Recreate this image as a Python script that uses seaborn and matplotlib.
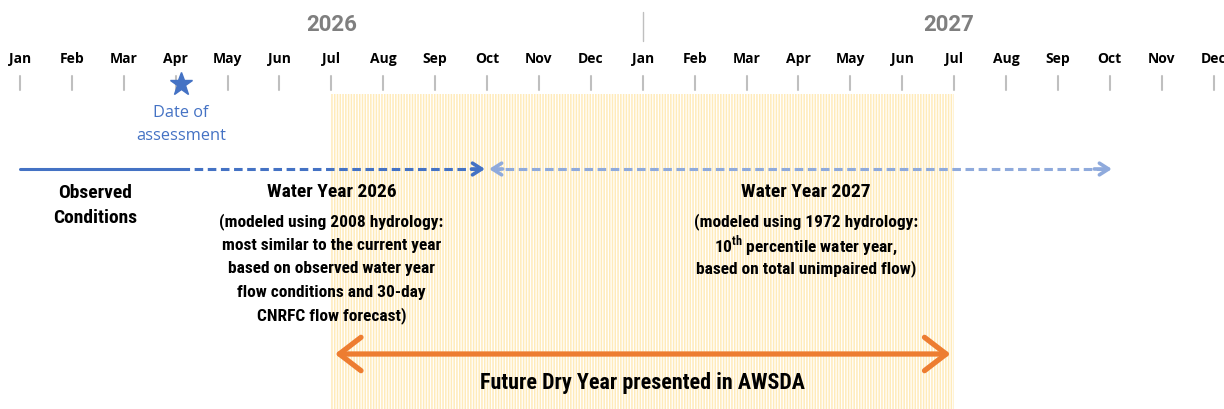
import matplotlib
matplotlib.use("Agg")
import matplotlib.pyplot as plt
from matplotlib import font_manager
import seaborn as sns
import pandas as pd
import numpy as np

# 时间轴数据
month_labels = ['Jan', 'Feb', 'Mar', 'Apr', 'May', 'Jun',
                'Jul', 'Aug', 'Sep', 'Oct', 'Nov', 'Dec'] * 2
year_labels = ['2026', '2027']
year_label_pos = [6.0, 17.9]
year_divider = 12.0

assessment_month = 3.1
observed_period = [0.0, 3.1]
wy2026_period = [3.1, 9.0]
wy2027_period = [9.0, 21.0]
dry_year_period = [6.0, 18.0]

wy2026_notes = ['(modeled using 2008 hydrology:',
                'most similar to the current year',
                'based on observed water year',
                'flow conditions and 30-day',
                'CNRFC flow forecast)']
wy2027_notes = ['(modeled using 1972 hydrology:',
                r'10$^{\mathregular{th}}$ percentile water year,',
                'based on total unimpaired flow)']

sns.set_theme(style='white')

# 找一个窄体字体
installed = {f.name for f in font_manager.fontManager.ttflist}
cands = ['Liberation Sans Narrow', 'Roboto Condensed', 'DejaVu Sans Condensed',
         'Open Sans Condensed', 'Noto Sans Condensed', 'Roboto', 'DejaVu Sans']
narrow_name = [c for c in cands if c in installed][0]
narrow = [narrow_name, 'DejaVu Sans']
plt.rcParams['font.family'] = narrow
plt.rcParams['hatch.linewidth'] = 1.1
plt.rcParams['text.color'] = 'black'

fig = plt.figure(figsize=(12.24, 4.10), dpi=100)
ax = fig.add_axes([0, 0, 1, 1])
ax.set_xlim(-0.385, 23.2)
ax.set_ylim(410, 0)
ax.axis('off')

blue = '#4472C4'
light_blue = '#8FAADC'
orange = '#ED7D31'
ui = ['Open Sans', 'DejaVu Sans']
txt = dict(ha='center', va='center', fontweight='bold', stretch='condensed')

# 干旱年背景（竖条纹）
ax.fill_between(dry_year_period, 95, 410, facecolor='white',
                edgecolor='#FFEBBA', hatch='||||||', linewidth=0, zorder=0)

# 年份标签和分隔线
for lab, xp in zip(year_labels, year_label_pos):
    ax.text(xp, 25, lab, ha='center', va='center', fontsize=16,
            fontweight='bold', color='#7F7F7F', family=['Roboto', 'DejaVu Sans'])
ax.plot([year_divider, year_divider], [13, 42], color='#BFBFBF', lw=1.0)

# 月份标签和刻度
months = np.arange(len(month_labels))
for i, lab in zip(months, month_labels):
    ax.text(i, 59, lab, ha='center', va='center', fontsize=10,
            fontweight='bold', color='black', family=ui)
    ax.plot([i, i], [77, 91], color='#BFBFBF', lw=1.5, zorder=1)

# 评估日期
ax.plot(assessment_month, 85, marker='*', markersize=17, color=blue, zorder=3)
ax.text(assessment_month, 113, 'Date of', ha='center', va='center',
        fontsize=11.8, color=blue, family=ui)
ax.text(assessment_month, 136, 'assessment', ha='center', va='center',
        fontsize=11.8, color=blue, family=ui)

# 观测与模拟时间线
y_line = 170
obs = pd.DataFrame({'x': observed_period, 'y': [y_line] * 2})
sns.lineplot(data=obs, x='x', y='y', ax=ax, color=blue, lw=2.2, zorder=2)
wy26 = pd.DataFrame({'x': [wy2026_period[0], wy2026_period[1] - 0.1], 'y': [y_line] * 2})
sns.lineplot(data=wy26, x='x', y='y', ax=ax, color=blue, lw=2.2,
             linestyle=(0, (2.8, 1.5)), zorder=2)
wy27 = pd.DataFrame({'x': [wy2027_period[0] + 0.1, wy2027_period[1] - 0.1], 'y': [y_line] * 2})
sns.lineplot(data=wy27, x='x', y='y', ax=ax, color=light_blue, lw=2.2,
             linestyle=(0, (2.8, 1.5)), zorder=2)

chev = '->, head_length=0.55, head_width=0.35'
ax.annotate('', xy=(wy2026_period[1] - 0.04, y_line), xytext=(wy2026_period[1] - 0.3, y_line),
            arrowprops=dict(arrowstyle=chev, color=blue, lw=2.6, shrinkA=0, shrinkB=0))
ax.annotate('', xy=(wy2027_period[0] + 0.04, y_line), xytext=(wy2027_period[0] + 0.3, y_line),
            arrowprops=dict(arrowstyle=chev, color=light_blue, lw=2.6, shrinkA=0, shrinkB=0))
ax.annotate('', xy=(wy2027_period[1] + 0.04, y_line), xytext=(wy2027_period[1] - 0.3, y_line),
            arrowprops=dict(arrowstyle=chev, color=light_blue, lw=2.6, shrinkA=0, shrinkB=0))

# 文字说明
ax.text(1.45, 193, 'Observed', fontsize=14, **txt)
ax.text(1.45, 218, 'Conditions', fontsize=14, **txt)

ax.text(6.0, 192, 'Water Year 2026', fontsize=14, **txt)
for k, line in enumerate(wy2026_notes):
    ax.text(6.0, 222 + 23.5 * k, line, fontsize=12.5, **txt)

ax.text(15.15, 192, 'Water Year 2027', fontsize=14, **txt)
for k, line in enumerate(wy2027_notes):
    ax.text(15.15, 222 + 23.5 * k, line, fontsize=12.5, **txt)

# 未来干旱年箭头
ax.annotate('', xy=(dry_year_period[1] - 0.07, 355), xytext=(dry_year_period[0] + 0.07, 355),
            arrowprops=dict(arrowstyle='<->, head_length=1.3, head_width=1.0',
                            color=orange, lw=3.8, shrinkA=0, shrinkB=0,
                            joinstyle='round', capstyle='round'))
ax.text(12.0, 383, 'Future Dry Year presented in AWSDA', fontsize=15.8, **txt)

fig.savefig('out.png', dpi=100, facecolor='white')
plt.close(fig)
